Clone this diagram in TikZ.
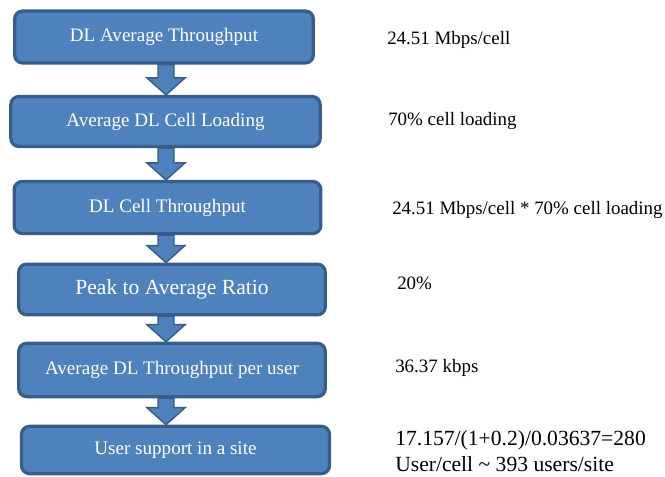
\documentclass[tikz,border=0pt]{standalone}
\usepackage{fontspec}
\setmainfont{Liberation Serif}
\usetikzlibrary{calc,positioning,backgrounds}
\definecolor{boxblue}{HTML}{4F81BD}
\definecolor{boxedge}{HTML}{385D8A}
\tikzset{%
  step box/.style={draw=boxedge,fill=boxblue,line width=2.4pt,rounded corners=6pt,
    minimum width=230pt,minimum height=39pt,text=white,inner sep=0pt,
    font=\fontsize{14.3}{17}\selectfont},
  note/.style={anchor=base west,inner sep=0pt,font=\fontsize{14.2}{17}\selectfont},
  fatarr/.style={draw=boxedge,fill=boxblue,line width=1.1pt,line join=miter}
}
% block arrow from the bottom of one box to the top of the next
\newcommand{\fatarrow}[2]{%
  \path[fatarr] ($(#1.south -| axis)+(-8,0)$) -- ($(#2.north -| axis)+(-8,-17)$)
    -- ($(#2.north -| axis)+(-19,-17)$) -- (#2.north -| axis)
    -- ($(#2.north -| axis)+(19,-17)$) -- ($(#2.north -| axis)+(8,-17)$)
    -- ($(#1.south -| axis)+(8,0)$) -- cycle;}
\begin{document}
\begin{tikzpicture}[x=0.75pt,y=-0.75pt]
\useasboundingbox (0,0) rectangle (665,477);
\coordinate (axis) at (166,0);
% flow of boxes
\node[step box,minimum width=224pt] (avgtp) at (164,37) {DL Average Throughput};
\node[step box,minimum width=232pt,minimum height=37.5pt] (loading) at (165.5,121.5) {Average DL Cell Loading};
\node[step box] (celltp) at (167.5,207.5) {DL Cell Throughput};
\node[step box,minimum height=38pt,font=\fontsize{16.2}{19}\selectfont] (ratio) at (172,289.5) {Peak to Average Ratio};
\node[step box,minimum height=40pt] (peruser) at (172,370) {Average DL Throughput per user};
\node[step box,minimum width=231pt,minimum height=35.5pt] (users) at (175.5,450) {User support in a site};
\begin{scope}[on background layer]
\fatarrow{avgtp}{loading}
\fatarrow{loading}{celltp}
\fatarrow{celltp}{ratio}
\fatarrow{ratio}{peruser}
\fatarrow{peruser}{users}
\end{scope}
% values on the right
\node[note] (v1) at (387,45) {24.51 Mbps/cell};
\node[note] (v2) at (388,126) {70\% cell loading};
\node[note] (v3) at (392,215) {24.51 Mbps/cell * 70\% cell loading};
\node[note] (v4) at (397,290) {20\%};
\node[note] (v5) at (395,373) {36.37 kbps};
\node[anchor=west,inner sep=0pt,align=left,font=\fontsize{16.2}{20}\selectfont] (v6) at (395,451)
  {17.157/(1+0.2)/0.03637=280\\User/cell \textasciitilde{} 393 users/site};
\end{tikzpicture}
\end{document}
